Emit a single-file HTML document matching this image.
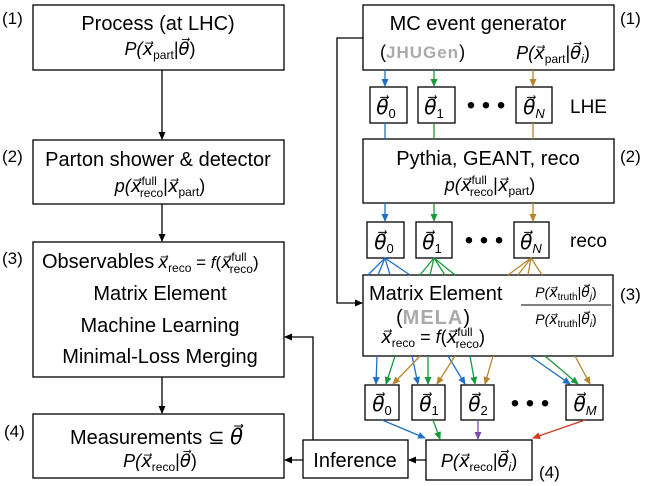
<!DOCTYPE html>
<html><head><meta charset="utf-8"><style>
html,body{margin:0;padding:0;background:#fff;}
svg{display:block;}
text{font-family:"Liberation Sans",sans-serif;fill:#000;}
.s{font-style:italic;}
</style></head><body>
<svg width="648" height="486" viewBox="0 0 648 486" xmlns="http://www.w3.org/2000/svg">
<defs>
<marker id="k" markerWidth="8" markerHeight="8" refX="7" refY="4" orient="auto" markerUnits="userSpaceOnUse"><path d="M0,0.5 L8,4 L0,7.5z" fill="#000"/></marker>
<marker id="b" markerWidth="8" markerHeight="8" refX="7" refY="4" orient="auto" markerUnits="userSpaceOnUse"><path d="M0,0.5 L8,4 L0,7.5z" fill="#1f6fc8"/></marker>
<marker id="g" markerWidth="8" markerHeight="8" refX="7" refY="4" orient="auto" markerUnits="userSpaceOnUse"><path d="M0,0.5 L8,4 L0,7.5z" fill="#189a3c"/></marker>
<marker id="o" markerWidth="8" markerHeight="8" refX="7" refY="4" orient="auto" markerUnits="userSpaceOnUse"><path d="M0,0.5 L8,4 L0,7.5z" fill="#b8862a"/></marker>
<marker id="p" markerWidth="8" markerHeight="8" refX="7" refY="4" orient="auto" markerUnits="userSpaceOnUse"><path d="M0,0.5 L8,4 L0,7.5z" fill="#7b4fa8"/></marker>
<marker id="rd" markerWidth="8" markerHeight="8" refX="7" refY="4" orient="auto" markerUnits="userSpaceOnUse"><path d="M0,0.5 L8,4 L0,7.5z" fill="#d63a1f"/></marker>
</defs>
<g fill="none" stroke="#000" stroke-width="1.3">
<rect x="33" y="5" width="251" height="65"/>
<rect x="33" y="140" width="251" height="64"/>
<rect x="33" y="242" width="251" height="135"/>
<rect x="33" y="414" width="251" height="64"/>
<rect x="363" y="5" width="251" height="65"/>
<rect x="363" y="139" width="251" height="64"/>
<rect x="363" y="275" width="250" height="81"/>
<rect x="370" y="87" width="37" height="36"/>
<rect x="418" y="87" width="37" height="36"/>
<rect x="516" y="87" width="36" height="36"/>
<rect x="367" y="222" width="37" height="36"/>
<rect x="416" y="222" width="36" height="36"/>
<rect x="514" y="222" width="35" height="36"/>
<rect x="365" y="385" width="34" height="35"/>
<rect x="412" y="385" width="33" height="35"/>
<rect x="461" y="385" width="33" height="35"/>
<rect x="566" y="385" width="37" height="35"/>
<rect x="426" y="440" width="106" height="40"/>
<rect x="303" y="440" width="105" height="38"/>
<line x1="162" y1="70" x2="162" y2="139" marker-end="url(#k)"/>
<line x1="162" y1="204" x2="162" y2="241" marker-end="url(#k)"/>
<line x1="162" y1="377" x2="162" y2="413" marker-end="url(#k)"/>
<polyline points="363,38 337,38 337,303 362,303" marker-end="url(#k)"/>
<polyline points="313,440 313,337 285,337" marker-end="url(#k)"/>
<line x1="303" y1="460" x2="285" y2="460" marker-end="url(#k)"/>
<line x1="426" y1="460" x2="409" y2="460" marker-end="url(#k)"/>
</g>
<g fill="none" stroke-width="1.3">
<g stroke="#1f6fc8">
<line x1="385" y1="70" x2="385" y2="86" marker-end="url(#b)"/>
<line x1="385" y1="123" x2="385" y2="139"/>
<line x1="385" y1="203" x2="385" y2="221" marker-end="url(#b)"/>
<line x1="385" y1="258" x2="368" y2="275"/><line x1="385" y1="258" x2="378" y2="275"/><line x1="385" y1="258" x2="390" y2="275"/><line x1="385" y1="258" x2="410" y2="275"/>
<line x1="377" y1="356" x2="376" y2="384" marker-end="url(#b)"/>
<line x1="412" y1="356" x2="418" y2="384" marker-end="url(#b)"/>
<line x1="448" y1="356" x2="465" y2="384" marker-end="url(#b)"/>
<line x1="530" y1="356" x2="570" y2="384" marker-end="url(#b)"/>
<line x1="382" y1="420" x2="425" y2="438" marker-end="url(#b)"/>
</g>
<g stroke="#189a3c">
<line x1="434" y1="70" x2="434" y2="86" marker-end="url(#g)"/>
<line x1="434" y1="123" x2="434" y2="139"/>
<line x1="434" y1="203" x2="434" y2="221" marker-end="url(#g)"/>
<line x1="434" y1="258" x2="420" y2="275"/><line x1="434" y1="258" x2="430" y2="275"/><line x1="434" y1="258" x2="445" y2="275"/><line x1="434" y1="258" x2="455" y2="275"/>
<line x1="395" y1="356" x2="386" y2="384" marker-end="url(#g)"/>
<line x1="428" y1="356" x2="428" y2="384" marker-end="url(#g)"/>
<line x1="470" y1="356" x2="475" y2="384" marker-end="url(#g)"/>
<line x1="545" y1="356" x2="578" y2="384" marker-end="url(#g)"/>
<line x1="433" y1="420" x2="440" y2="439" marker-end="url(#g)"/>
</g>
<g stroke="#b8862a">
<line x1="533" y1="70" x2="533" y2="86" marker-end="url(#o)"/>
<line x1="533" y1="123" x2="533" y2="139"/>
<line x1="533" y1="203" x2="533" y2="221" marker-end="url(#o)"/>
<line x1="531" y1="258" x2="508" y2="275"/><line x1="531" y1="258" x2="518" y2="275"/><line x1="531" y1="258" x2="528" y2="275"/><line x1="531" y1="258" x2="542" y2="275"/>
<line x1="420" y1="356" x2="393" y2="384" marker-end="url(#o)"/>
<line x1="455" y1="356" x2="437" y2="384" marker-end="url(#o)"/>
<line x1="493" y1="356" x2="485" y2="384" marker-end="url(#o)"/>
<line x1="575" y1="356" x2="590" y2="384" marker-end="url(#o)"/>
</g>
<line x1="478" y1="420" x2="478" y2="439" stroke="#7b4fa8" marker-end="url(#p)"/>
<line x1="585" y1="420" x2="533" y2="438" stroke="#d63a1f" marker-end="url(#rd)"/>
</g>
<g font-size="17">
<text x="2" y="24">(1)</text><text x="2" y="162">(2)</text><text x="2" y="264">(3)</text><text x="4" y="437">(4)</text>
<text x="620" y="24">(1)</text><text x="620" y="162">(2)</text><text x="620" y="300">(3)</text><text x="539" y="478">(4)</text>
</g>
<g font-size="20" text-anchor="middle">
<text x="158" y="30">Process (at LHC)</text>
<text x="158" y="166">Parton shower &amp; detector</text>
<text x="160" y="300">Matrix Element</text>
<text x="160" y="332">Machine Learning</text>
<text x="160" y="363">Minimal-Loss Merging</text>
<text x="478" y="30">MC event generator</text>
<text x="488" y="165">Pythia, GEANT, reco</text>
<text x="355" y="467">Inference</text>
</g>
<text x="42" y="268" font-size="20">Observables</text>
<text x="158" y="268" font-size="17" class="s">x⃗<tspan font-size="12" font-style="normal" dy="4">reco</tspan><tspan dy="-4" font-style="normal"> = </tspan>f<tspan font-style="normal">(</tspan>x⃗<tspan font-size="12" font-style="normal" dy="-7">full</tspan><tspan font-size="12" font-style="normal" dx="-17" dy="12">reco</tspan><tspan font-style="normal" dy="-5">)</tspan></text>
<text x="70" y="444" font-size="20">Measurements ⊆ <tspan class="s" font-size="21">θ⃗</tspan></text>
<g font-size="18" text-anchor="middle">
<text class="s" x="160" y="55">P(x⃗<tspan font-size="12" font-style="normal" dy="4">part</tspan><tspan dy="-4" font-style="normal">|</tspan>θ⃗<tspan font-style="normal">)</tspan></text>
<text class="s" x="160" y="192">p(x⃗<tspan font-size="12" font-style="normal" dy="-7">full</tspan><tspan font-size="12" font-style="normal" dx="-17" dy="12">reco</tspan><tspan dy="-5" font-style="normal">|</tspan>x⃗<tspan font-size="12" font-style="normal" dy="4">part</tspan><tspan dy="-4" font-style="normal">)</tspan></text>
<text class="s" x="160" y="467">P(x⃗<tspan font-size="12" font-style="normal" dy="4">reco</tspan><tspan dy="-4" font-style="normal">|</tspan>θ⃗<tspan font-style="normal">)</tspan></text>
<text class="s" x="490" y="191">p(x⃗<tspan font-size="12" font-style="normal" dy="-7">full</tspan><tspan font-size="12" font-style="normal" dx="-17" dy="12">reco</tspan><tspan dy="-5" font-style="normal">|</tspan>x⃗<tspan font-size="12" font-style="normal" dy="4">part</tspan><tspan dy="-4" font-style="normal">)</tspan></text>
<text class="s" x="479" y="467">P(x⃗<tspan font-size="12" font-style="normal" dy="4">reco</tspan><tspan dy="-4" font-style="normal">|</tspan>θ⃗<tspan font-size="12" dy="4">i</tspan><tspan font-style="normal" dy="-4">)</tspan></text>
<text class="s" x="553" y="59">P(x⃗<tspan font-size="12" font-style="normal" dy="4">part</tspan><tspan dy="-4" font-style="normal">|</tspan>θ⃗<tspan font-size="12" dy="4">i</tspan><tspan font-style="normal" dy="-4">)</tspan></text>
<text class="s" x="433" y="343">x⃗<tspan font-size="12" font-style="normal" dy="4">reco</tspan><tspan dy="-4" font-style="normal"> = </tspan>f<tspan font-style="normal">(</tspan>x⃗<tspan font-size="12" font-style="normal" dy="-7">full</tspan><tspan font-size="12" font-style="normal" dx="-17" dy="12">reco</tspan><tspan font-style="normal" dy="-5">)</tspan></text>
<text class="s" x="566" y="297" font-size="14">P(x⃗<tspan font-size="10" font-style="normal" dy="3">truth</tspan><tspan dy="-3" font-style="normal">|</tspan>θ⃗<tspan font-size="10" dy="3">j</tspan><tspan font-style="normal" dy="-3">)</tspan></text>
<text class="s" x="566" y="324" font-size="14">P(x⃗<tspan font-size="10" font-style="normal" dy="3">truth</tspan><tspan dy="-3" font-style="normal">|</tspan>θ⃗<tspan font-size="10" dy="3">i</tspan><tspan font-style="normal" dy="-3">)</tspan></text>
</g>
<line x1="521" y1="305" x2="611" y2="305" stroke="#000" stroke-width="1"/>
<text x="369" y="300" font-size="20">Matrix Element</text>
<text x="396" y="324" font-size="20">(<tspan fill="#aaa" font-weight="bold" letter-spacing="1">MELA</tspan>)</text>
<text x="380" y="58" font-size="18">(<tspan fill="#aaa" font-weight="bold" font-size="17" letter-spacing="1">JHUGen</tspan>)</text>
<text x="570" y="113" font-size="19">LHE</text>
<text x="570" y="247" font-size="19">reco</text>
<g font-size="24" text-anchor="middle">
<text x="486" y="113">• • •</text><text x="484" y="248">• • •</text><text x="530" y="411">• • •</text>
</g>
<g font-size="20" text-anchor="middle">
<text class="s" x="386" y="114" fill="#1f6fc8">θ⃗<tspan font-size="13" font-style="normal" dy="4">0</tspan></text>
<text class="s" x="434" y="114" fill="#189a3c">θ⃗<tspan font-size="13" font-style="normal" dy="4">1</tspan></text>
<text class="s" x="534" y="114" fill="#b8862a">θ⃗<tspan font-size="13" dy="4">N</tspan></text>
<text class="s" x="384" y="249" fill="#1f6fc8">θ⃗<tspan font-size="13" font-style="normal" dy="4">0</tspan></text>
<text class="s" x="432" y="249" fill="#189a3c">θ⃗<tspan font-size="13" font-style="normal" dy="4">1</tspan></text>
<text class="s" x="531" y="249" fill="#b8862a">θ⃗<tspan font-size="13" dy="4">N</tspan></text>
<text class="s" x="382" y="411" fill="#1f6fc8">θ⃗<tspan font-size="13" font-style="normal" dy="4">0</tspan></text>
<text class="s" x="429" y="411" fill="#189a3c">θ⃗<tspan font-size="13" font-style="normal" dy="4">1</tspan></text>
<text class="s" x="478" y="411" fill="#7b4fa8">θ⃗<tspan font-size="13" font-style="normal" dy="4">2</tspan></text>
<text class="s" x="585" y="411" fill="#d63a1f">θ⃗<tspan font-size="13" dy="4">M</tspan></text>
</g>
</svg>
</body></html>
